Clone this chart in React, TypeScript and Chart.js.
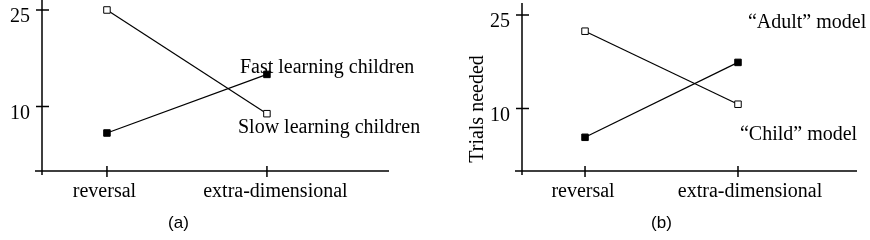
import React, { useEffect, useRef } from "react";
import { Chart, registerables } from "chart.js";

Chart.register(...registerables);

// ---- data ----
const categories = ["reversal", "extra-dimensional"];
const yTickValues = [10, 25];

// panel (a): children
const slowLearningChildren = [25, 8.9];
const fastLearningChildren = [5.9, 15];

// panel (b): models
const childModel = [22.4, 10.7];
const adultModel = [5.4, 17.4];

const SERIF = '"Liberation Serif", "Times New Roman", serif';
const SANS = '"Liberation Sans", Arial, sans-serif';

type Note = { text: string; x: number; y: number };
type PanelCfg = {
  width: number;
  height: number;
  plotLeft: number;
  plotRight: number;
  plotBottom: number;
  axisTop: number;
  yMax: number;
  xMin: number;
  xMax: number;
  series: { label: string; data: number[]; filled: boolean }[];
  notes: Note[];
  catNudge: number[];
  catBaseline: number;
  yTitle?: { text: string; x: number; y: number };
  caption: { text: string; x: number; y: number };
};

const panelA: PanelCfg = {
  width: 430,
  height: 240,
  plotLeft: 42,
  plotRight: 389,
  plotBottom: 171,
  axisTop: 0,
  yMax: 26.55,
  xMin: -0.406,
  xMax: 1.763,
  series: [
    { label: "Slow learning children", data: slowLearningChildren, filled: false },
    { label: "Fast learning children", data: fastLearningChildren, filled: true },
  ],
  notes: [
    { text: "Fast learning children", x: 0.831, y: 15.2 },
    { text: "Slow learning children", x: 0.819, y: 5.9 },
  ],
  catNudge: [-2.5, 8.5],
  catBaseline: 197,
  caption: { text: "(a)", x: 178.5, y: 223.5 },
};

const panelB: PanelCfg = {
  width: 440,
  height: 240,
  plotLeft: 92,
  plotRight: 427,
  plotBottom: 171,
  axisTop: 3,
  yMax: 27.4,
  xMin: -0.412,
  xMax: 1.778,
  series: [
    { label: "“Child” model", data: childModel, filled: false },
    { label: "“Adult” model", data: adultModel, filled: true },
  ],
  notes: [
    { text: "“Adult” model", x: 1.065, y: 22.9 },
    { text: "“Child” model", x: 1.013, y: 5.0 },
  ],
  catNudge: [-2, 12],
  catBaseline: 197,
  yTitle: { text: "Trials needed", x: 53, y: 109 },
  caption: { text: "(b)", x: 231.5, y: 223.5 },
};

function makeDecor(cfg: PanelCfg) {
  return {
    id: "decor",
    beforeDatasetsDraw(chart: any) {
      const { ctx, chartArea, scales } = chart;
      const xs = scales.x;
      const ys = scales.y;
      const ax = chartArea.left;
      const ay = ys.getPixelForValue(0);
      ctx.save();
      ctx.strokeStyle = "#000";
      ctx.lineWidth = 1.5;
      ctx.beginPath();
      ctx.moveTo(ax, cfg.axisTop);
      ctx.lineTo(ax, ay + 4);
      ctx.moveTo(ax - 7, ay);
      ctx.lineTo(chartArea.right, ay);
      yTickValues.forEach((v) => {
        const p = ys.getPixelForValue(v);
        ctx.moveTo(ax - 6, p);
        ctx.lineTo(ax + 7, p);
      });
      categories.forEach((_, i) => {
        const p = xs.getPixelForValue(i);
        ctx.moveTo(p, ay - 5);
        ctx.lineTo(p, ay + 6);
      });
      ctx.stroke();
      ctx.restore();
    },
    afterDraw(chart: any) {
      const { ctx, chartArea, scales } = chart;
      const xs = scales.x;
      const ys = scales.y;
      ctx.save();
      ctx.fillStyle = "#000";
      ctx.font = `20px ${SERIF}`;
      ctx.textBaseline = "alphabetic";
      // y tick labels
      ctx.textAlign = "right";
      yTickValues.forEach((v) => {
        ctx.fillText(String(v), chartArea.left - 12, ys.getPixelForValue(v) + 12.5);
      });
      // category labels
      ctx.textAlign = "center";
      categories.forEach((c, i) => {
        ctx.fillText(c, xs.getPixelForValue(i) + cfg.catNudge[i], cfg.catBaseline);
      });
      // in-plot annotations
      ctx.textAlign = "left";
      cfg.notes.forEach((n) => {
        ctx.fillText(n.text, xs.getPixelForValue(n.x), ys.getPixelForValue(n.y));
      });
      if (cfg.yTitle) {
        ctx.save();
        ctx.translate(cfg.yTitle.x, cfg.yTitle.y);
        ctx.rotate(-Math.PI / 2);
        ctx.textAlign = "center";
        ctx.fillText(cfg.yTitle.text, 0, 0);
        ctx.restore();
      }
      ctx.font = `17px ${SANS}`;
      ctx.textAlign = "center";
      ctx.textBaseline = "middle";
      ctx.fillText(cfg.caption.text, cfg.caption.x, cfg.caption.y);
      ctx.restore();
    },
  };
}

function Panel({ cfg }: { cfg: PanelCfg }) {
  const ref = useRef<HTMLCanvasElement>(null);
  useEffect(() => {
    const canvas = ref.current!;
    const chart = new Chart(canvas, {
      type: "line",
      data: {
        datasets: cfg.series.map((s) => ({
          label: s.label,
          data: s.data.map((v, i) => ({ x: i, y: v })),
          borderColor: "#000",
          borderWidth: 1.2,
          pointStyle: "rect",
          pointRadius: 4.6,
          pointHoverRadius: 4.6,
          pointBackgroundColor: s.filled ? "#000" : "#fff",
          pointBorderColor: "#000",
          pointBorderWidth: 1,
          fill: false,
          tension: 0,
          clip: false,
        })),
      },
      options: {
        responsive: false,
        animation: false,
        devicePixelRatio: 1,
        events: [],
        layout: {
          autoPadding: false,
          padding: { left: 0, top: 0, right: cfg.width - cfg.plotRight, bottom: 0 },
        },
        plugins: {
          legend: { display: false },
          tooltip: { enabled: false },
          title: { display: false },
        },
        scales: {
          x: {
            type: "linear",
            min: cfg.xMin,
            max: cfg.xMax,
            grid: { display: false, drawTicks: false },
            border: { display: false },
            ticks: { display: false },
            afterFit: (s: any) => {
              s.height = cfg.height - cfg.plotBottom;
              s.paddingLeft = 0;
              s.paddingRight = 0;
            },
          },
          y: {
            type: "linear",
            min: 0,
            max: cfg.yMax,
            grid: { display: false, drawTicks: false },
            border: { display: false },
            ticks: { display: false },
            afterBuildTicks: (s: any) => {
              s.ticks = yTickValues.map((v) => ({ value: v }));
            },
            afterFit: (s: any) => {
              s.width = cfg.plotLeft;
              s.paddingTop = 0;
              s.paddingBottom = 0;
            },
          },
        },
      } as any,
      plugins: [makeDecor(cfg)],
    });
    return () => chart.destroy();
  }, [cfg]);
  return (
    <canvas
      ref={ref}
      width={cfg.width}
      height={cfg.height}
      style={{ display: "block", width: cfg.width, height: cfg.height }}
    />
  );
}

export default function App() {
  useEffect(() => {
    document.body.style.margin = "0";
  }, []);
  return (
    <div style={{ display: "flex", width: 870, height: 240, background: "#fff" }}>
      <Panel cfg={panelA} />
      <Panel cfg={panelB} />
    </div>
  );
}
